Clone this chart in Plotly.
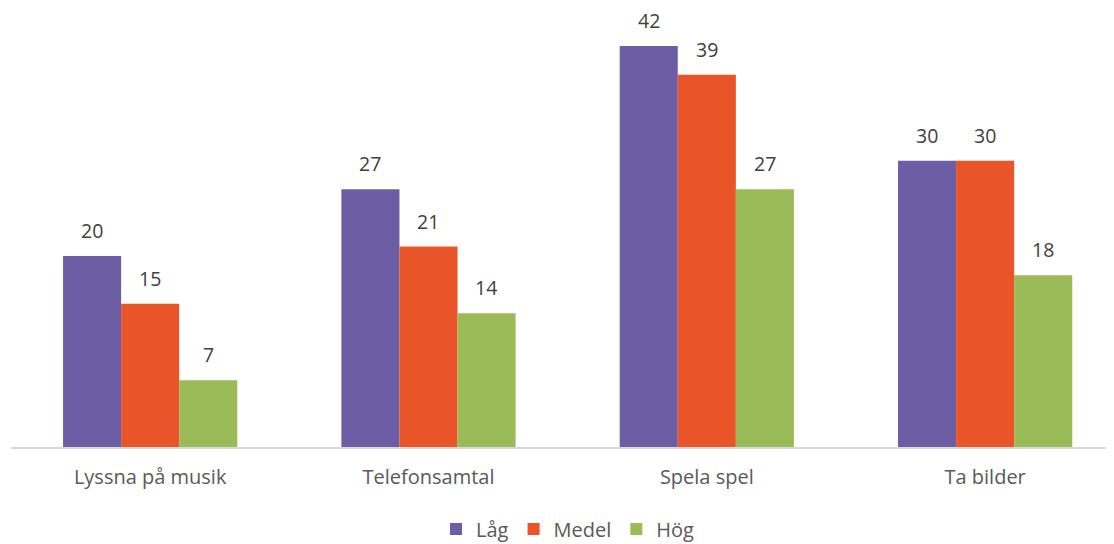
import plotly.graph_objects as go

categories = ["Lyssna på musik", "Telefonsamtal", "Spela spel", "Ta bilder"]
series_names = ["Låg", "Medel", "Hög"]
lag = [20, 27, 42, 30]
medel = [15, 21, 39, 30]
hog = [7, 14, 27, 18]

colors = ["#6B5EA5", "#E95428", "#9BBB59"]
FONT = "Open Sans"

fig = go.Figure()
for name, vals, col in zip(series_names, [lag, medel, hog], colors):
    fig.add_trace(go.Bar(
        x=categories, y=vals, name=name,
        marker=dict(color=col, line=dict(width=0)),
        hoverinfo="x+y+name",
    ))

# value labels above bars
bar_w = 58
for i, vals in enumerate([lag, medel, hog]):
    for cat, v in zip(categories, vals):
        fig.add_annotation(
            x=cat, y=v, text=str(v), showarrow=False,
            xshift=(i - 1) * bar_w, yshift=10, yanchor="bottom",
            font=dict(family=FONT, size=19.5, color="#404040"),
        )

# page body has an 8px margin, so the figure is sized/offset to compensate
fig.update_layout(
    width=1106, height=536,
    margin=dict(l=3, r=0, t=19, b=97, autoexpand=False),
    paper_bgcolor="white", plot_bgcolor="white",
    barmode="group", bargap=0.374, bargroupgap=0,
    font=dict(family=FONT, size=20, color="#595959"),
    xaxis=dict(
        range=[-0.5, 3.463], showline=True, linecolor="#D9D9D9", linewidth=2,
        ticks="", tickfont=dict(size=20, color="#595959"), showgrid=False,
        ticklabelstandoff=11, automargin=False,
    ),
    yaxis=dict(range=[0, 44], visible=False, showgrid=False, automargin=False),
    legend=dict(
        orientation="h", x=0.505, xanchor="center",
        yref="container", y=0.028, yanchor="middle",
        font=dict(size=20, color="#595959"), itemwidth=30, traceorder="normal",
    ),
    showlegend=True,
)

fig.write_html("out.html")
